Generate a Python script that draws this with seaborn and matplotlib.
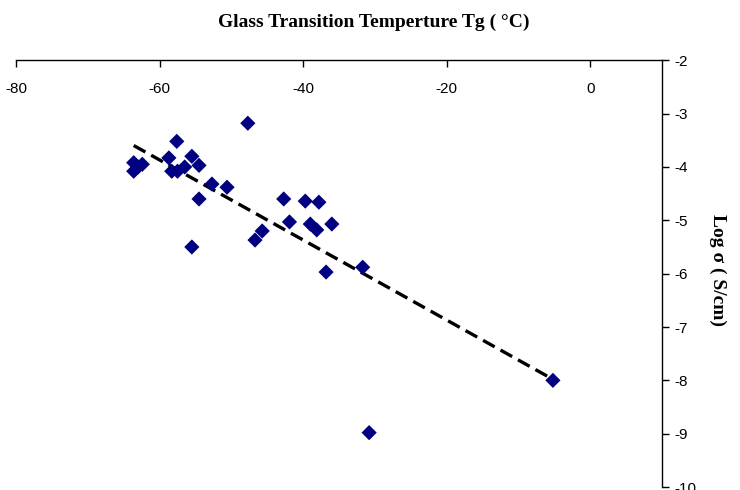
import numpy as np
import pandas as pd
import seaborn as sns
import matplotlib.pyplot as plt

# Tg (°C) vs log conductivity
tg = [-63.6, -63.6, -63.0, -62.4, -58.7, -58.3, -57.6, -57.5, -56.5, -55.5, -54.5,
      -54.5, -55.5, -52.7, -50.6, -47.7, -46.7, -45.7, -42.7, -41.9, -39.7,
      -39.0, -38.1, -37.8, -36.8, -36.0, -31.7, -30.8, -5.2]
log_sigma = [-3.92, -4.08, -4.0, -3.95, -3.83, -4.08, -3.52, -4.08, -4.0, -3.8, -3.97,
             -4.6, -5.5, -4.32, -4.38, -3.18, -5.37, -5.2, -4.6, -5.03, -4.64,
             -5.07, -5.18, -4.66, -5.97, -5.07, -5.88, -8.98, -8.0]

x_ticks = [-80, -60, -40, -20, 0]
y_ticks = [-2, -3, -4, -5, -6, -7, -8, -9, -10]

df = pd.DataFrame({"tg": tg, "log_sigma": log_sigma})

sns.set_style("white")
plt.rcParams["font.family"] = ["Liberation Sans", "DejaVu Sans"]
plt.rcParams["axes.unicode_minus"] = False
plt.rcParams["text.color"] = "black"
plt.rcParams["xtick.color"] = "black"
plt.rcParams["ytick.color"] = "black"

fig = plt.figure(figsize=(7.4, 4.9), dpi=100)
ax = fig.add_axes([0.0216, 0.006, 0.873, 0.871])

sns.regplot(data=df, x="tg", y="log_sigma", ax=ax, ci=None, truncate=True,
            scatter=False, color="black",
            line_kws={"linestyle": (0, (4, 2)), "linewidth": 2.4})
sns.scatterplot(data=df, x="tg", y="log_sigma", ax=ax, marker="D", s=60,
                color="#000080", edgecolor="none", zorder=3)

ax.set_xlim(-80, 10)
ax.set_ylim(-10, -2)
ax.set_xticks(x_ticks)
ax.set_yticks(y_ticks)

for side in ["left", "bottom"]:
    ax.spines[side].set_visible(False)
for side in ["top", "right"]:
    ax.spines[side].set_visible(True)
    ax.spines[side].set_color("black")
    ax.spines[side].set_linewidth(1.0)

ax.xaxis.tick_top()
ax.yaxis.tick_right()
ax.tick_params(axis="x", direction="in", length=5, width=1, labelsize=11, pad=-26)
ax.tick_params(axis="y", direction="out", length=5, width=1, labelsize=11, pad=4)

ax.set_xlabel("")
ax.set_ylabel("")
fig.text(0.505, 0.955, "Glass Transition Temperture Tg ( °C)", ha="center", va="center",
         fontsize=14, fontweight="bold", family=["Liberation Serif", "DejaVu Serif"])
fig.text(0.97, 0.45, "Log σ ( S/cm)", ha="center", va="center", rotation=270,
         fontsize=14, fontweight="bold", family=["Liberation Serif", "DejaVu Serif"])

fig.savefig("out.png", dpi=100)
